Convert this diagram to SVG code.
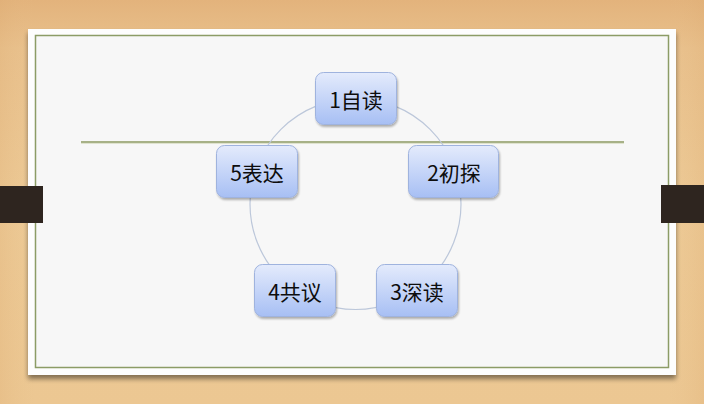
<svg xmlns="http://www.w3.org/2000/svg" width="704" height="404" viewBox="0 0 704 404">
  <defs>
    <linearGradient id="wood" x1="0" y1="0" x2="0" y2="1">
      <stop offset="0" stop-color="#e3b37c"/>
      <stop offset="0.12" stop-color="#e9c18d"/>
      <stop offset="0.5" stop-color="#edca96"/>
      <stop offset="1" stop-color="#ecc792"/>
    </linearGradient>
    <linearGradient id="woodSide" x1="0" y1="0" x2="1" y2="0">
      <stop offset="0" stop-color="#dcaa70" stop-opacity="0.25"/>
      <stop offset="0.05" stop-color="#e6be88" stop-opacity="0"/>
      <stop offset="0.95" stop-color="#e6be88" stop-opacity="0"/>
      <stop offset="1" stop-color="#dcaa70" stop-opacity="0.25"/>
    </linearGradient>
    <linearGradient id="nodeFill" x1="0" y1="0" x2="0" y2="1">
      <stop offset="0" stop-color="#e4ebfc"/>
      <stop offset="1" stop-color="#a7bff4"/>
    </linearGradient>
    <filter id="paperShadow" x="-5%" y="-5%" width="110%" height="115%">
      <feGaussianBlur in="SourceAlpha" stdDeviation="2.5"/>
      <feOffset dx="0" dy="4"/>
      <feComponentTransfer><feFuncA type="linear" slope="0.45"/></feComponentTransfer>
      <feMerge><feMergeNode/><feMergeNode in="SourceGraphic"/></feMerge>
    </filter>
    <filter id="nodeShadow" x="-10%" y="-10%" width="125%" height="130%">
      <feGaussianBlur in="SourceAlpha" stdDeviation="1.2"/>
      <feOffset dx="1" dy="2"/>
      <feComponentTransfer><feFuncA type="linear" slope="0.3"/></feComponentTransfer>
      <feMerge><feMergeNode/><feMergeNode in="SourceGraphic"/></feMerge>
    </filter>
  </defs>
  <style>
    .node rect { fill: url(#nodeFill); stroke: #9fb3de; stroke-width: 1; filter: url(#nodeShadow); }
    .node text { font-family: "Microsoft YaHei", "Noto Sans CJK SC", "Noto Sans", sans-serif; font-size: 21px; fill: #0d0d0d; text-anchor: middle; dominant-baseline: central; }
    .tab { fill: #2e251f; }
    .ring { fill: none; stroke: #bcc7da; stroke-width: 1.2; }
  </style>

  <!-- wooden backdrop -->
  <rect x="0" y="0" width="704" height="404" fill="url(#wood)"/>
  <rect x="0" y="0" width="704" height="404" fill="url(#woodSide)"/>

  <!-- paper sheet with green frame -->
  <rect x="28" y="29" width="648" height="346" fill="#fdfdfd" filter="url(#paperShadow)"/>
  <rect x="35.5" y="35.5" width="633" height="332" fill="#f7f7f7" stroke="#8c9c66" stroke-width="1.5"/>

  <!-- clips holding the sheet -->
  <rect class="tab" x="0" y="186" width="43" height="37"/>
  <rect class="tab" x="661" y="185" width="43" height="38"/>

  <!-- rule line -->
  <line x1="81" y1="142" x2="624" y2="142" stroke="#8c9a62" stroke-width="1.5"/>
  <line x1="81" y1="143.5" x2="624" y2="143.5" stroke="#dfe3cf" stroke-width="1"/>

  <!-- connectors: cycle ring -->
  <g id="connectors">
    <circle class="ring" cx="355.5" cy="204" r="105.5"/>
  </g>

  <g id="node1" class="node">
    <rect x="315.5" y="72.5" width="81" height="52" rx="8"/>
    <text x="356" y="98.5">1自读</text>
  </g>
  <g id="node2" class="node">
    <rect x="408.5" y="145.5" width="90" height="52" rx="8"/>
    <text x="454" y="171.5">2初探</text>
  </g>
  <g id="node3" class="node">
    <rect x="376.5" y="264.5" width="81" height="52" rx="8"/>
    <text x="417" y="290.5">3深读</text>
  </g>
  <g id="node4" class="node">
    <rect x="254.5" y="264.5" width="81" height="52" rx="8"/>
    <text x="295" y="290.5">4共议</text>
  </g>
  <g id="node5" class="node">
    <rect x="216.5" y="145.5" width="81" height="52" rx="8"/>
    <text x="257" y="171.5">5表达</text>
  </g>
</svg>
